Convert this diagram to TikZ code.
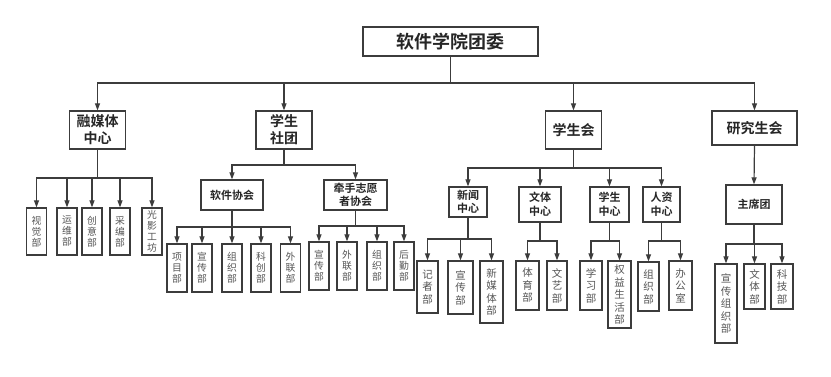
\documentclass[tikz,border=0pt]{standalone}
\usepackage{fontspec}
\newfontfamily\cjk{Noto Sans CJK SC}[BoldFont={Noto Sans CJK SC Bold}]
\usetikzlibrary{arrows.meta}
\definecolor{ln}{HTML}{3C3C3C}
\definecolor{lf}{HTML}{555555}
\tikzset{
  box/.style={draw=ln, line width=1.3pt, inner sep=0pt, align=center, text=black!85},
  head/.style={box, font=\cjk\bfseries\fontsize{14}{17}\selectfont},
  sub/.style={box, font=\cjk\bfseries\fontsize{11}{13.5}\selectfont},
  leafa/.style={box, text=lf, font=\cjk\fontsize{9.8}{11}\selectfont},
  leafb/.style={box, text=lf, font=\cjk\fontsize{10.5}{12.5}\selectfont},
  conn/.style={draw=ln, line width=1.2pt, -{Triangle[width=5pt,length=7pt]}},
}
\newcommand{\bx}[4]{minimum width=#1pt, minimum height=#2pt}
\begin{document}
\begin{tikzpicture}[x=1pt,y=-1pt]
\useasboundingbox[fill=white] (0,0) rectangle (831,377);
% root
\node[box, font=\cjk\bfseries\fontsize{18}{20}\selectfont, minimum width=175pt, minimum height=29pt] (root) at (450.5,41.5) {软件学院团委};
% level 1
\node[head, minimum width=56pt, minimum height=38pt] (rm) at (97.5,130) {融媒体\\中心};
\node[head, minimum width=56pt, minimum height=38pt] (st) at (284,130) {学生\\社团};
\node[head, minimum width=56pt, minimum height=38pt] (sh) at (573.5,130) {学生会};
\node[head, minimum width=85pt, minimum height=34pt] (yj) at (754.5,128) {研究生会};
\coordinate (b0) at (0,83);
\foreach \c in {rm,st,sh,yj} \draw[conn] (root.south) -- (root.south |- b0) -| (\c.north);
% 融媒体中心 leaves
\coordinate (b1) at (0,178);
\foreach \n/\x/\t in {r1/36.5/视\\觉\\部, r2/67/运\\维\\部, r3/92/创\\意\\部, r4/120/采\\编\\部, r5/152/光\\影\\工\\坊}
  \node[leafa, minimum width=20pt, minimum height=47pt] (\n) at (\x,231.5) {\t};
\foreach \c in {r1,r2,r3,r4,r5} \draw[conn] (rm.south) -- (rm.south |- b1) -| (\c.north);
% 学生社团
\node[sub, minimum width=62pt, minimum height=30pt] (rj) at (232,195) {软件协会};
\node[sub, minimum width=63pt, minimum height=30pt] (qs) at (355.5,195) {牵手志愿\\者协会};
\coordinate (b2) at (0,165);
\foreach \c in {rj,qs} \draw[conn] (st.south) -- (st.south |- b2) -| (\c.north);
\foreach \n/\x/\t in {j1/177/项\\目\\部, j2/202/宣\\传\\部, j3/232/组\\织\\部, j4/261/科\\创\\部, j5/290.5/外\\联\\部}
  \node[leafa, minimum width=20pt, minimum height=48pt] (\n) at (\x,268) {\t};
\coordinate (b3) at (0,227);
\foreach \c in {j1,j2,j3,j4,j5} \draw[conn] (rj.south) -- (rj.south |- b3) -| (\c.north);
\foreach \n/\x/\t in {q1/319/宣\\传\\部, q2/347/外\\联\\部, q3/377/组\\织\\部, q4/404/后\\勤\\部}
  \node[leafa, minimum width=20pt, minimum height=48pt] (\n) at (\x,266) {\t};
\coordinate (b4) at (0,226);
\foreach \c in {q1,q2,q3,q4} \draw[conn] (qs.south) -- (qs.south |- b4) -| (\c.north);
% 学生会
\node[sub, minimum width=38pt, minimum height=30pt] (xw) at (468,202) {新闻\\中心};
\node[sub, minimum width=42pt, minimum height=35pt] (wt) at (540,204.5) {文体\\中心};
\node[sub, minimum width=39pt, minimum height=35pt] (xs) at (609.5,204.5) {学生\\中心};
\node[sub, minimum width=37pt, minimum height=35pt] (rz) at (661.5,204.5) {人资\\中心};
\coordinate (b5) at (0,168);
\foreach \c in {xw,wt,xs,rz} \draw[conn] (sh.south) -- (sh.south |- b5) -| (\c.north);
\node[leafb, minimum width=21pt, minimum height=52pt] (x1) at (427.5,287) {记\\者\\部};
\node[leafb, minimum width=25pt, minimum height=53pt] (x2) at (460.5,287.5) {宣\\传\\部};
\node[leafb, minimum width=23pt, minimum height=62pt] (x3) at (491.5,292) {新\\媒\\体\\部};
\coordinate (b6) at (0,239);
\foreach \c in {x1,x2,x3} \draw[conn] (xw.south) -- (xw.south |- b6) -| (\c.north);
\node[leafb, minimum width=23pt, minimum height=49pt] (w1) at (527.5,285.5) {体\\育\\部};
\node[leafb, minimum width=20pt, minimum height=49pt] (w2) at (557,285.5) {文\\艺\\部};
\coordinate (b7) at (0,241);
\foreach \c in {w1,w2} \draw[conn] (wt.south) -- (wt.south |- b7) -| (\c.north);
\node[leafb, minimum width=22pt, minimum height=49pt] (s1) at (591,285.5) {学\\习\\部};
\node[leafb, minimum width=23pt, minimum height=67pt] (s2) at (619.5,294.5) {权\\益\\生\\活\\部};
\foreach \c in {s1,s2} \draw[conn] (xs.south) -- (xs.south |- b7) -| (\c.north);
\node[leafb, minimum width=21pt, minimum height=49pt] (z1) at (648.5,286.5) {组\\织\\部};
\node[leafb, minimum width=23pt, minimum height=49pt] (z2) at (680.5,285.5) {办\\公\\室};
\foreach \c in {z1,z2} \draw[conn] (rz.south) -- (rz.south |- b7) -| (\c.north);
% 研究生会
\node[sub, minimum width=56pt, minimum height=39pt] (zx) at (754,204.5) {主席团};
\draw[conn] (yj.south) -- (zx.north);
\node[leafb, minimum width=22pt, minimum height=79pt] (y1) at (726,303.5) {宣\\传\\组\\织\\部};
\node[leafb, minimum width=21pt, minimum height=45pt] (y2) at (754.5,286.5) {文\\体\\部};
\node[leafb, minimum width=22pt, minimum height=45pt] (y3) at (782,286.5) {科\\技\\部};
\coordinate (b8) at (0,244);
\foreach \c in {y1,y2,y3} \draw[conn] (zx.south) -- (zx.south |- b8) -| (\c.north);
\end{tikzpicture}
\end{document}
